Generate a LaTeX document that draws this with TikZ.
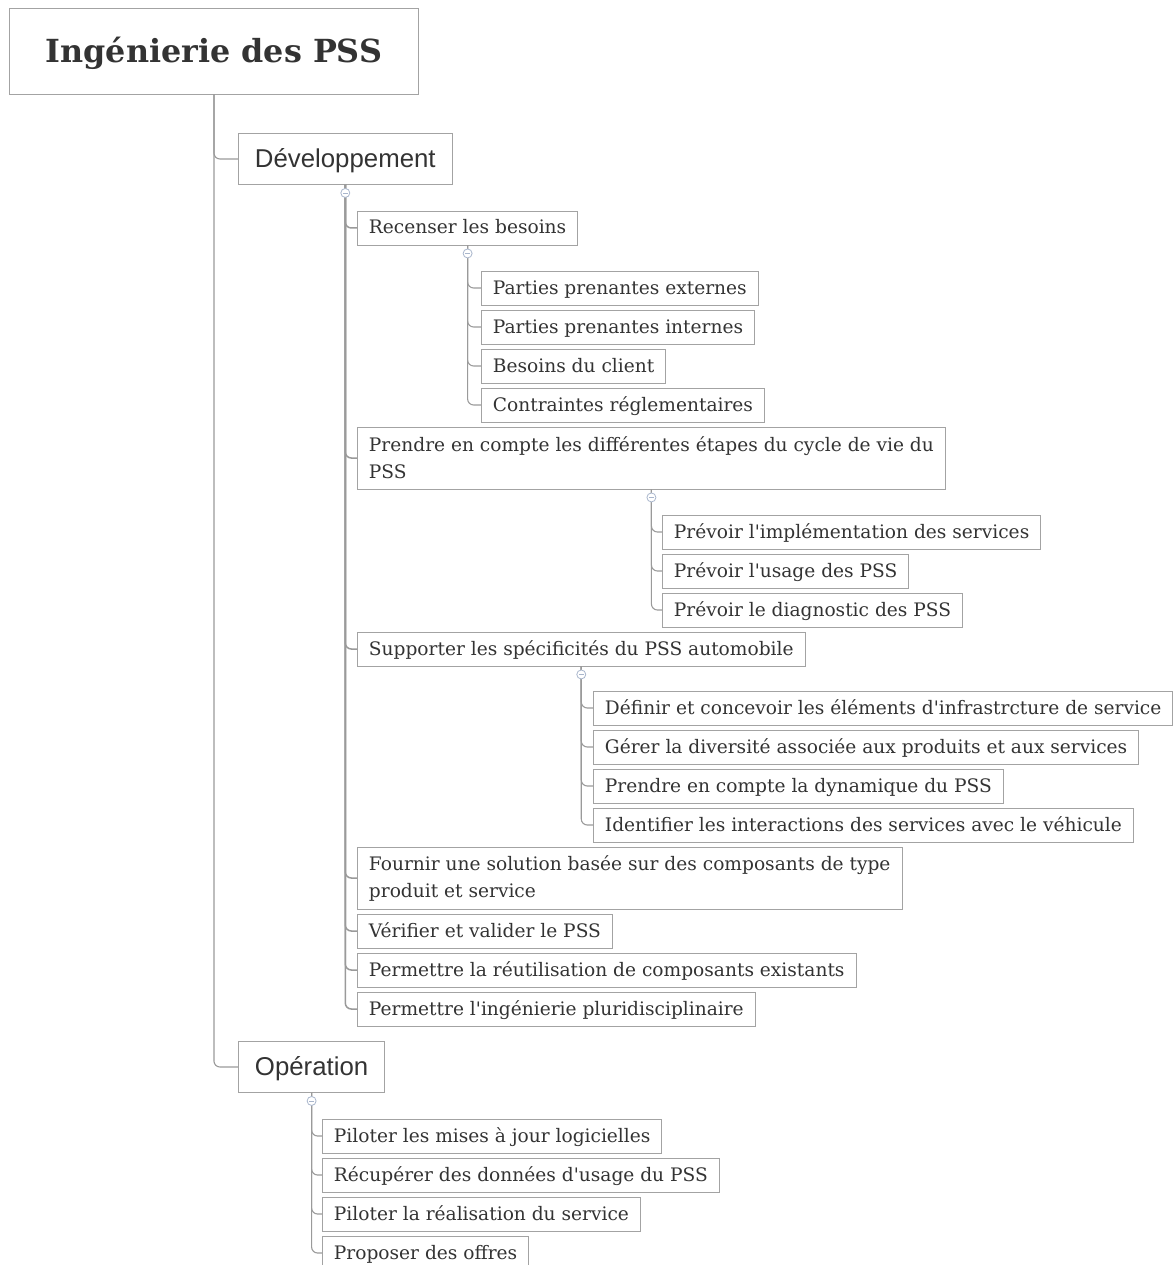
\documentclass[tikz,border=0pt]{standalone}
\usepackage{fontspec}
\newfontfamily\leaffont[Ligatures=TeXOff]{DejaVu Serif}
\newfontfamily\headfont{Liberation Sans}
\definecolor{ink}{HTML}{333333}
\definecolor{frame}{HTML}{A3A3A3}
\definecolor{branch}{HTML}{9A9A9A}
\definecolor{knobline}{HTML}{A9B6CC}
\tikzset{every node/.style={text=ink},
  box/.style={draw=frame,line width=.9pt,anchor=west,inner xsep=11.5pt,inner ysep=0pt,
    font=\leaffont\fontsize{18.6}{27}\selectfont},
  leaf/.style={box,minimum height=34pt,text height=15pt,text depth=3pt},
  tall/.style={box,align=left,minimum height=62pt},
  head/.style={leaf,font=\headfont\fontsize{25.8}{30}\selectfont,inner xsep=16.5pt,
    minimum height=51pt,text height=20pt,text depth=3pt},
  title/.style={box,font=\leaffont\bfseries\fontsize{31.8}{36}\selectfont,
    minimum width=409pt,minimum height=86pt,text height=26pt,text depth=2pt},
  link/.style={draw=branch,line width=1.1pt,rounded corners=6pt},
  knob/.style={circle,draw=knobline,fill=white,line width=.8pt,minimum size=9pt,inner sep=0pt,
    path picture={\draw[knobline,line width=.8pt]
      ([xshift=-2.5pt]path picture bounding box.center)--([xshift=2.5pt]path picture bounding box.center);}}}
\begin{document}
\begin{tikzpicture}[x=1pt,y=-1pt]
\useasboundingbox (0,0) rectangle (1172,1265);
% root and the two phases
\node[title] (root) at (9,51) {Ingénierie des PSS};
\node[head] (dev) at (238,159) {Développement};
\node[head] (op) at (238,1067) {Opération};
% development
\node[leaf] (besoins) at (357,228) {Recenser les besoins};
\node[leaf] (ppext) at (481,288) {Parties prenantes externes};
\node[leaf] (ppint) at (481,327) {Parties prenantes internes};
\node[leaf] (client) at (481,366) {Besoins du client};
\node[leaf] (regl) at (481,405) {Contraintes réglementaires};
\node[tall] (cycle) at (357,458) {Prendre en compte les différentes étapes du cycle de vie du\\PSS};
\node[leaf] (implem) at (662,532) {Prévoir l'implémentation des services};
\node[leaf] (usage) at (662,571) {Prévoir l'usage des PSS};
\node[leaf] (diag) at (662,610) {Prévoir le diagnostic des PSS};
\node[leaf] (auto) at (357,649) {Supporter les spécificités du PSS automobile};
\node[leaf] (infra) at (593,708) {Définir et concevoir les éléments d'infrastrcture de service};
\node[leaf] (divers) at (593,747) {Gérer la diversité associée aux produits et aux services};
\node[leaf] (dyna) at (593,786) {Prendre en compte la dynamique du PSS};
\node[leaf] (interac) at (593,825) {Identifier les interactions des services avec le véhicule};
\node[tall] (solution) at (357,878) {Fournir une solution basée sur des composants de type\\produit et service};
\node[leaf] (verif) at (357,931) {Vérifier et valider le PSS};
\node[leaf] (reuse) at (357,970) {Permettre la réutilisation de composants existants};
\node[leaf] (pluri) at (357,1009) {Permettre l'ingénierie pluridisciplinaire};
% operation
\node[leaf] (maj) at (322,1136) {Piloter les mises à jour logicielles};
\node[leaf] (donnees) at (322,1175) {Récupérer des données d'usage du PSS};
\node[leaf] (realis) at (322,1214) {Piloter la réalisation du service};
\node[leaf] (offres) at (322,1253) {Proposer des offres};
% branches
\foreach \c in {dev,op} \draw[link] (root.south) |- (\c.west);
\foreach \c in {besoins,cycle,auto,solution,verif,reuse,pluri} \draw[link,line width=1.5pt] (dev.south) |- (\c.west);
\foreach \c in {ppext,ppint,client,regl} \draw[link] (besoins.south) |- (\c.west);
\foreach \c in {implem,usage,diag} \draw[link] (cycle.south) |- (\c.west);
\foreach \c in {infra,divers,dyna,interac} \draw[link] (auto.south) |- (\c.west);
\foreach \c in {maj,donnees,realis,offres} \draw[link] (op.south) |- (\c.west);
% collapse knobs
\foreach \p in {dev,besoins,cycle,auto,op} \node[knob] (\p knob) at ([yshift=-8pt]\p.south) {};
\end{tikzpicture}
\end{document}
